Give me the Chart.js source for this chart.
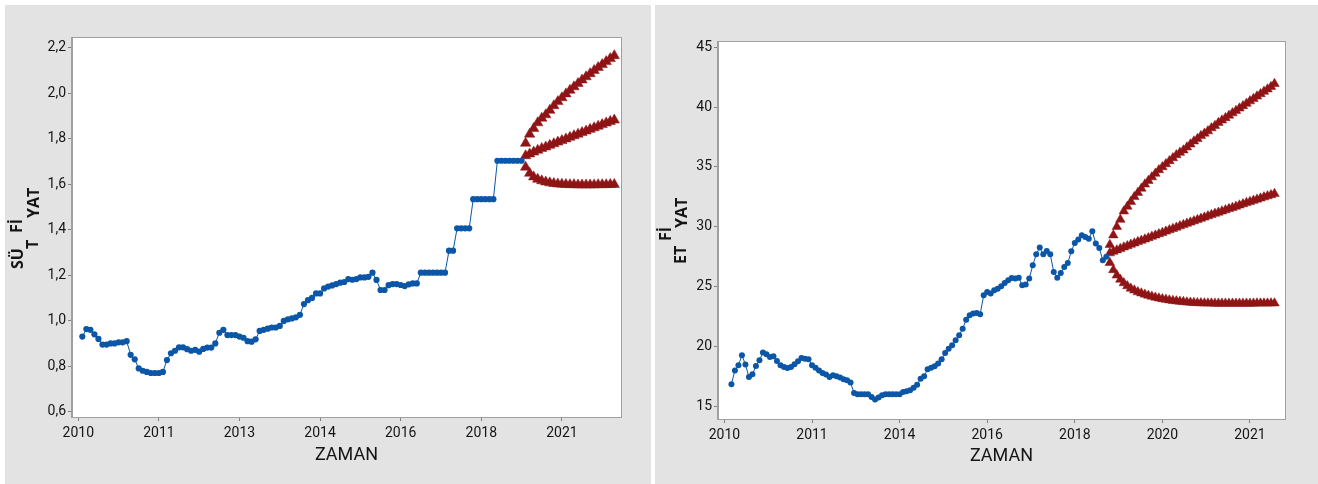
<!DOCTYPE html>
<html>
<head>
<meta charset="utf-8">
<script src="https://cdn.jsdelivr.net/npm/chart.js@4.4.0/dist/chart.umd.min.js"></script>
<style>
  html, body { margin: 0; padding: 0; background: #ffffff; }
  body { width: 1318px; height: 484px; position: relative; overflow: hidden; }
  .panel { position: absolute; background: #e3e3e3; }
  #p1 { left: 5px; top: 5px; width: 646px; height: 479px; }
  #p2 { left: 655px; top: 5px; width: 663px; height: 479px; }
  canvas { display: block; }
</style>
</head>
<body>
<div class="panel" id="p1"><canvas id="sut" width="646" height="479"></canvas></div>
<div class="panel" id="p2"><canvas id="et" width="663" height="479"></canvas></div>
<script>
// --- SÜT FİYATI (sol grafik) ---
const sutTickLabels = ['2010', '2011', '2013', '2014', '2016', '2018', '2021'];
const sutTickIndex = [0, 20, 40, 60, 80, 100, 120];
const sutYTicks = [0.6, 0.8, 1.0, 1.2, 1.4, 1.6, 1.8, 2.0, 2.2];
const sutObserved = [
  0.93, 0.963, 0.96, 0.94, 0.92, 0.895, 0.895, 0.90, 0.90, 0.905,
  0.905, 0.91, 0.85, 0.83, 0.79, 0.78, 0.775, 0.77, 0.77, 0.77,
  0.775, 0.827, 0.857, 0.868, 0.883, 0.883, 0.875, 0.868, 0.872, 0.864,
  0.876, 0.882, 0.882, 0.90, 0.947, 0.96, 0.937, 0.937, 0.937, 0.93,
  0.925, 0.91, 0.908, 0.918, 0.955, 0.96, 0.965, 0.97, 0.97, 0.977,
  0.999, 1.006, 1.01, 1.015, 1.026, 1.073, 1.09, 1.10, 1.12, 1.12,
  1.142, 1.15, 1.155, 1.161, 1.167, 1.17, 1.183, 1.18, 1.183, 1.19,
  1.19, 1.193, 1.211, 1.179, 1.135, 1.135, 1.156, 1.161, 1.161, 1.157,
  1.152, 1.16, 1.164, 1.164, 1.211, 1.211, 1.211, 1.211, 1.211, 1.211,
  1.211, 1.308, 1.308, 1.406, 1.406, 1.406, 1.406, 1.534, 1.534, 1.534,
  1.534, 1.534, 1.534, 1.703, 1.703, 1.703, 1.703, 1.703, 1.703, 1.703
];
const sutUpper = [
  1.78, 1.82, 1.845, 1.87, 1.89, 1.905, 1.925, 1.945, 1.963, 1.98,
  1.997, 2.013, 2.028, 2.043, 2.058, 2.072, 2.086, 2.10, 2.113, 2.126,
  2.139, 2.152, 2.165
];
const sutForecast = [
  1.725, 1.733, 1.741, 1.749, 1.757, 1.764, 1.771, 1.778, 1.785, 1.792,
  1.799, 1.806, 1.813, 1.820, 1.827, 1.834, 1.841, 1.848, 1.855, 1.862,
  1.869, 1.876, 1.882
];
const sutLower = [
  1.675, 1.648, 1.632, 1.622, 1.615, 1.610, 1.606, 1.603, 1.601, 1.600,
  1.599, 1.598, 1.598, 1.597, 1.597, 1.597, 1.597, 1.597, 1.598, 1.598,
  1.598, 1.599, 1.599
];

// --- ET FİYATI (sağ grafik) ---
const etTickLabels = ['2010', '2011', '2014', '2016', '2018', '2020', '2021'];
const etTickIndex = [0, 25, 50, 75, 100, 125, 150];
const etYTicks = [15, 20, 25, 30, 35, 40, 45];
const etObserved = [
  16.84, 18.0, 18.43, 19.26, 18.5, 17.45, 17.67, 18.37, 18.84, 19.49,
  19.35, 19.12, 19.18, 18.79, 18.43, 18.29, 18.2, 18.29, 18.51, 18.76,
  19.04, 18.98, 18.93, 18.43, 18.23, 18.0, 17.79, 17.65, 17.45, 17.59,
  17.51, 17.40, 17.26, 17.17, 16.98, 16.11, 16.0, 16.0, 16.0, 16.0,
  15.78, 15.56, 15.73, 15.92, 16.0, 16.0, 16.0, 16.0, 16.0, 16.2,
  16.25, 16.34, 16.56, 16.81, 17.31, 17.51, 18.09, 18.23, 18.34, 18.57,
  18.93, 19.45, 19.82, 20.1, 20.52, 20.93, 21.49, 22.24, 22.6, 22.75,
  22.8, 22.69, 24.28, 24.55, 24.42, 24.69, 24.83, 25.03, 25.3, 25.53,
  25.72, 25.67, 25.75, 25.11, 25.17, 25.67, 26.78, 27.7, 28.26, 27.7,
  27.98, 27.7, 26.22, 25.75, 26.14, 26.64, 26.97, 27.95, 28.65, 28.93,
  29.29, 29.15, 29.01, 29.62, 28.6, 28.23, 27.2, 27.5
];
const etUpper = [
  28.5, 29.3, 30.0, 30.6, 31.3, 31.7, 32.1, 32.5, 32.85, 33.2,
  33.55, 33.85, 34.15, 34.45, 34.75, 35.0, 35.25, 35.5, 35.75, 36.0,
  36.2, 36.4, 36.65, 36.9, 37.15, 37.35, 37.6, 37.8, 38.0, 38.25,
  38.45, 38.7, 38.9, 39.1, 39.3, 39.5, 39.7, 39.9, 40.1, 40.3,
  40.5, 40.7, 40.9, 41.1, 41.3, 41.5, 41.7, 41.95
];
const etForecast = [
  27.80, 27.93, 28.05, 28.17, 28.29, 28.40, 28.52, 28.63, 28.74, 28.85,
  28.96, 29.07, 29.18, 29.29, 29.40, 29.51, 29.62, 29.73, 29.84, 29.95,
  30.06, 30.16, 30.27, 30.37, 30.48, 30.58, 30.69, 30.79, 30.90, 31.00,
  31.10, 31.20, 31.30, 31.40, 31.50, 31.60, 31.70, 31.80, 31.90, 32.00,
  32.10, 32.19, 32.29, 32.38, 32.48, 32.57, 32.66, 32.76
];
const etLower = [
  27.0, 26.4, 25.95, 25.6, 25.3, 25.05, 24.85, 24.7, 24.55, 24.45,
  24.35, 24.25, 24.18, 24.1, 24.03, 23.97, 23.92, 23.87, 23.83, 23.79,
  23.76, 23.73, 23.7, 23.68, 23.66, 23.64, 23.63, 23.62, 23.61, 23.61,
  23.6, 23.6, 23.6, 23.6, 23.6, 23.6, 23.6, 23.6, 23.6, 23.6,
  23.6, 23.6, 23.61, 23.61, 23.61, 23.61, 23.62, 23.62
];

const BLUE = '#0b56a7';
const RED = '#8f1416';
const TEXT = '#151515';
const TICK_FONT = { family: "Roboto, sans-serif", size: 14 };

function toPoints(values, startIndex) {
  return values.map((v, i) => ({ x: startIndex + i, y: v }));
}

// beyaz çizim alanı, çerçeve ve eksen başlıkları
const framePlugin = {
  id: 'frame',
  beforeDraw(chart) {
    const a = chart.chartArea, ctx = chart.ctx;
    ctx.save();
    ctx.fillStyle = '#ffffff';
    ctx.fillRect(a.left, a.top, a.right - a.left, a.bottom - a.top);
    ctx.restore();
  },
  afterDraw(chart, args, opts) {
    const a = chart.chartArea, ctx = chart.ctx;
    ctx.save();
    ctx.strokeStyle = '#a0a0a0';
    ctx.lineWidth = 1;
    ctx.strokeRect(Math.round(a.left) - 0.5, Math.round(a.top) - 0.5,
      Math.round(a.right - a.left) + 1, Math.round(a.bottom - a.top) + 1);
    ctx.fillStyle = TEXT;
    ctx.font = "18px Roboto, sans-serif";
    ctx.textAlign = 'center';
    ctx.textBaseline = 'middle';
    ctx.fillText(opts.xTitle, (a.left + a.right) / 2, opts.xTitleY);
    ctx.font = "bold 16px 'Open Sans', sans-serif";
    ctx.textAlign = 'left';
    opts.yPieces.forEach(p => {
      ctx.save();
      ctx.translate(p.x, p.y);
      ctx.rotate(-Math.PI / 2);
      ctx.fillText(p.text, 0, 1);
      ctx.restore();
    });
    ctx.restore();
  }
};

function makeChart(id, cfg) {
  const tickMap = {};
  cfg.tickIndex.forEach((v, i) => { tickMap[v] = cfg.tickLabels[i]; });
  const triangles = values => ({
    data: toPoints(values, cfg.fcStart), showLine: false,
    pointStyle: 'triangle', pointRadius: cfg.triSize,
    pointBackgroundColor: RED, pointBorderColor: RED, pointBorderWidth: 0.5
  });
  return new Chart(document.getElementById(id), {
    type: 'scatter',
    data: {
      datasets: [
        {
          data: toPoints(cfg.observed, cfg.obsStart),
          showLine: true, borderColor: BLUE, borderWidth: 1,
          pointRadius: cfg.dotSize, pointBackgroundColor: BLUE, pointBorderWidth: 0
        },
        triangles(cfg.upper),
        triangles(cfg.forecast),
        triangles(cfg.lower)
      ]
    },
    options: {
      responsive: false,
      animation: false,
      devicePixelRatio: 1,
      layout: { padding: cfg.padding },
      plugins: {
        legend: { display: false },
        tooltip: { enabled: false },
        frame: { xTitle: 'ZAMAN', xTitleY: cfg.xTitleY, yPieces: cfg.yPieces }
      },
      scales: {
        x: {
          type: 'linear', min: cfg.xMin, max: cfg.xMax,
          afterBuildTicks: s => { s.ticks = cfg.tickIndex.map(v => ({ value: v })); },
          afterFit: s => { s.height = cfg.xAxisHeight; },
          ticks: {
            autoSkip: false, maxRotation: 0, color: TEXT, font: TICK_FONT, padding: 4,
            callback: v => tickMap[v]
          },
          grid: { drawOnChartArea: false, tickLength: 4, color: '#808080' },
          border: { color: '#a0a0a0' }
        },
        y: {
          min: cfg.yMin, max: cfg.yMax,
          afterBuildTicks: s => { s.ticks = cfg.yTicks.map(v => ({ value: v })); },
          afterFit: s => { s.width = cfg.yAxisWidth; },
          ticks: {
            color: TEXT, font: TICK_FONT, padding: 2,
            callback: v => cfg.yFormat(v)
          },
          grid: { drawOnChartArea: false, tickLength: 4, color: '#808080' },
          border: { color: '#a0a0a0' }
        }
      }
    },
    plugins: [framePlugin]
  });
}

makeChart('sut', {
  observed: sutObserved, upper: sutUpper, forecast: sutForecast, lower: sutLower,
  obsStart: 1, fcStart: 111, triSize: 6, dotSize: 3.1,
  tickIndex: sutTickIndex, tickLabels: sutTickLabels, yTicks: sutYTicks,
  xMin: -1.56, xMax: 134.67, yMin: 0.5767, yMax: 2.2426,
  yFormat: v => v.toFixed(1).replace('.', ','),
  padding: { left: 0, top: 33, right: 30, bottom: 0 },
  yAxisWidth: 67, xAxisHeight: 67, xTitleY: 450,
  yPieces: [
    { text: 'SÜ', x: 12, y: 264 },
    { text: 'T', x: 27, y: 244 },
    { text: 'Fİ', x: 11, y: 228 },
    { text: 'YAT', x: 28, y: 213 }
  ]
});

makeChart('et', {
  observed: etObserved, upper: etUpper, forecast: etForecast, lower: etLower,
  obsStart: 2, fcStart: 110, triSize: 5.5, dotSize: 3,
  tickIndex: etTickIndex, tickLabels: etTickLabels, yTicks: etYTicks,
  xMin: -1.83, xMax: 160.0, yMin: 13.94, yMax: 45.44,
  yFormat: v => String(v),
  padding: { left: 0, top: 37, right: 33, bottom: 0 },
  yAxisWidth: 63, xAxisHeight: 65, xTitleY: 451,
  yPieces: [
    { text: 'ET', x: 25, y: 259 },
    { text: 'Fİ', x: 10, y: 236 },
    { text: 'YAT', x: 26, y: 223 }
  ]
});
</script>
</body>
</html>
